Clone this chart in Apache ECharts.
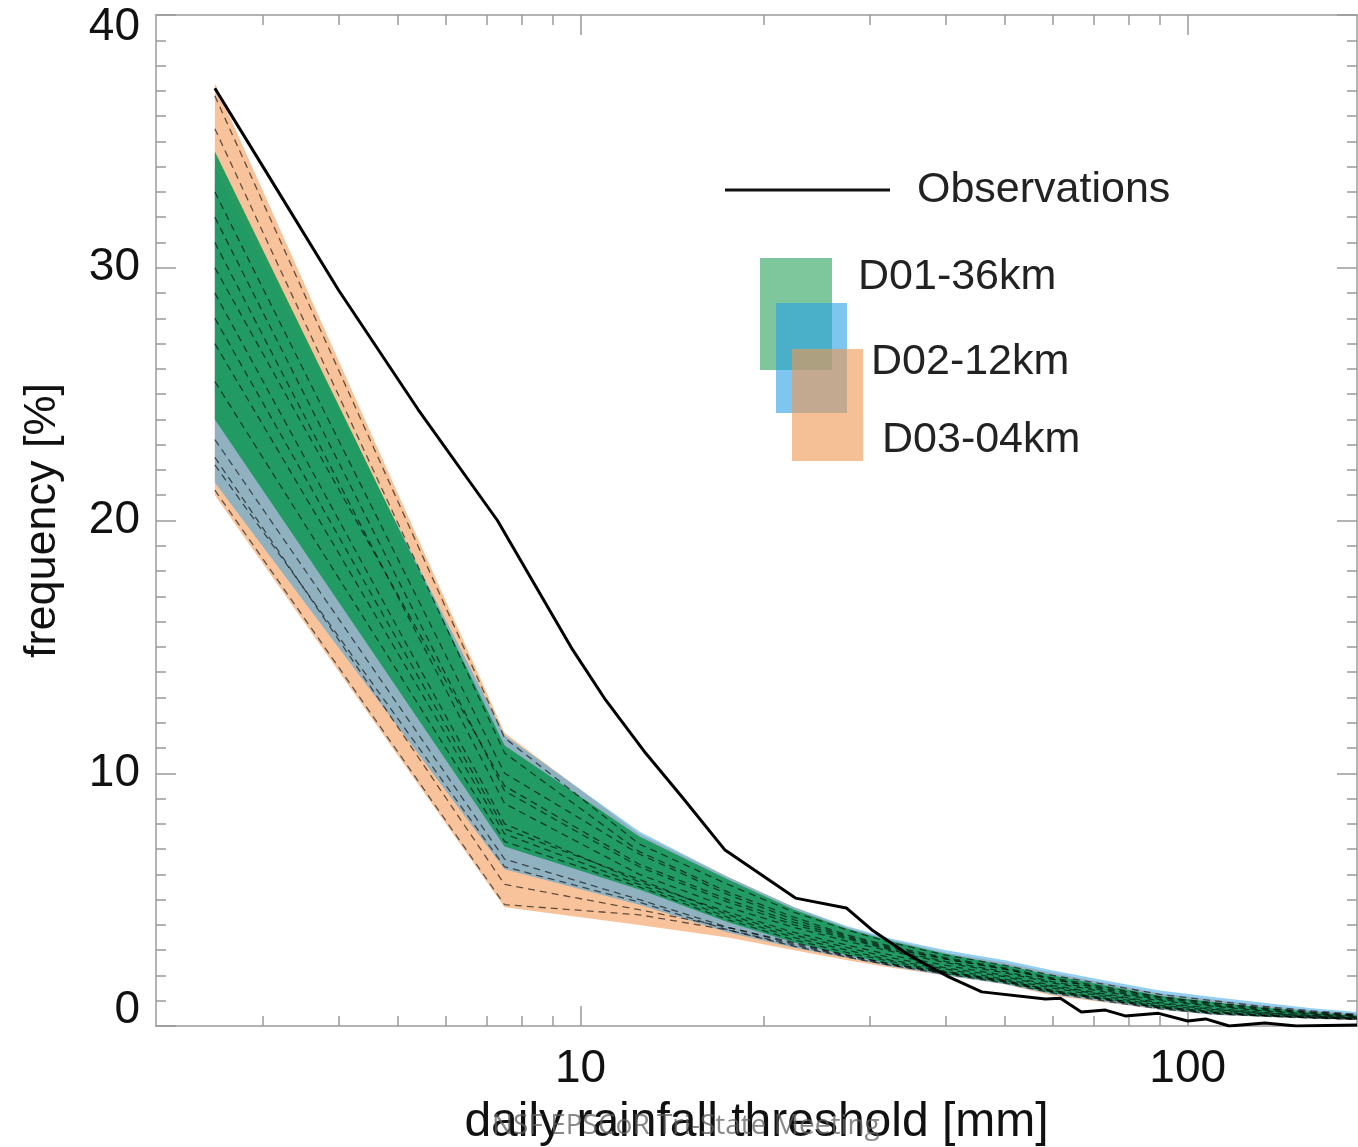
<!DOCTYPE html>
<html>
<head>
<meta charset="utf-8">
<script src="https://cdn.jsdelivr.net/npm/echarts@6/dist/echarts.min.js"></script>
<style>
  html, body { margin: 0; padding: 0; background: #fff; }
  #chart { width: 1358px; height: 1147px; }
</style>
</head>
<body>
<div id="chart"></div>
<script>
// thresholds (mm) where the model ensembles are sampled
var thresholds = [2.5, 7.5, 12.5, 17.5, 22.5, 27.5, 32.5, 40, 50, 60, 75, 90, 110, 130, 160, 190];

// ensemble envelopes (frequency %)
var d01Hi = [34.6, 11.1, 7.5, 5.8, 4.6, 3.85, 3.35, 2.85, 2.4, 2.0, 1.55, 1.2, 0.95, 0.75, 0.55, 0.42];
var d01Lo = [24.0, 7.1, 5.4, 4.1, 3.3, 2.8, 2.45, 2.05, 1.7, 1.3, 1.0, 0.7, 0.5, 0.4, 0.32, 0.27];
var d02Hi = [34.0, 11.5, 7.7, 5.9, 4.7, 3.95, 3.45, 3.0, 2.6, 2.2, 1.75, 1.4, 1.15, 0.95, 0.7, 0.55];
var d02Lo = [21.5, 6.2, 4.8, 3.7, 3.1, 2.7, 2.35, 2.0, 1.65, 1.25, 0.92, 0.65, 0.45, 0.38, 0.3, 0.25];
var d03Hi = [37.3, 11.6, 7.6, 5.9, 4.7, 3.9, 3.4, 2.9, 2.5, 2.1, 1.65, 1.3, 1.05, 0.85, 0.62, 0.48];
var d03Lo = [21.0, 4.7, 4.0, 3.5, 3.0, 2.6, 2.3, 2.0, 1.65, 1.2, 0.9, 0.65, 0.45, 0.38, 0.3, 0.25];

// a few ensemble members (dashed)
var d01Members = [
  [33.0, 10.0, 6.8, 5.2, 4.2, 3.55, 3.1, 2.65, 2.25, 1.85, 1.4, 1.1, 0.85, 0.68, 0.5, 0.4],
  [32.0, 9.3, 6.3, 4.9, 4.0, 3.45, 3.0, 2.55, 2.15, 1.75, 1.35, 1.05, 0.8, 0.65, 0.48, 0.38],
  [31.0, 8.8, 6.0, 4.7, 3.9, 3.35, 2.95, 2.5, 2.1, 1.7, 1.3, 1.0, 0.78, 0.62, 0.46, 0.37],
  [29.0, 8.0, 5.7, 4.5, 3.7, 3.2, 2.8, 2.4, 2.0, 1.6, 1.22, 0.92, 0.7, 0.56, 0.42, 0.34],
  [28.0, 7.8, 5.8, 4.4, 3.6, 3.1, 2.7, 2.3, 1.95, 1.55, 1.18, 0.88, 0.66, 0.53, 0.4, 0.32],
  [27.0, 7.6, 5.6, 4.3, 3.5, 3.0, 2.6, 2.25, 1.85, 1.5, 1.12, 0.82, 0.62, 0.5, 0.38, 0.31],
  [25.5, 7.3, 5.5, 4.2, 3.4, 2.9, 2.55, 2.15, 1.8, 1.4, 1.05, 0.76, 0.56, 0.45, 0.35, 0.29]
];
var d02Members = [
  [30.0, 9.5, 6.4, 5.0, 4.1, 3.5, 3.05, 2.65, 2.25, 1.85, 1.45, 1.15, 0.92, 0.75, 0.55, 0.44],
  [23.2, 6.6, 5.0, 3.9, 3.25, 2.8, 2.45, 2.1, 1.75, 1.35, 1.0, 0.72, 0.52, 0.42, 0.33, 0.27],
  [22.2, 6.3, 4.9, 3.8, 3.15, 2.72, 2.4, 2.05, 1.7, 1.3, 0.95, 0.68, 0.48, 0.4, 0.31, 0.26]
];
var d03Members = [
  [36.8, 11.4, 7.2, 5.6, 4.5, 3.8, 3.3, 2.8, 2.4, 2.0, 1.6, 1.25, 1.0, 0.8, 0.6, 0.46],
  [35.5, 10.8, 6.9, 5.3, 4.3, 3.6, 3.15, 2.7, 2.3, 1.9, 1.5, 1.15, 0.9, 0.72, 0.55, 0.42],
  [22.5, 5.6, 4.6, 3.9, 3.3, 2.8, 2.45, 2.15, 1.8, 1.4, 1.05, 0.78, 0.55, 0.45, 0.35, 0.28],
  [21.2, 4.8, 4.4, 3.8, 3.2, 2.75, 2.4, 2.1, 1.75, 1.35, 1.0, 0.72, 0.5, 0.42, 0.33, 0.27]
];

// observed curve
var obsX = [2.5, 3.0, 4.0, 5.4, 7.3, 9.7, 11.0, 12.8, 14.7, 17.3, 22.6, 27.4, 30.2, 34.8, 40.4, 45.8, 58.3, 61.7, 66.8, 73.2, 78.9, 89.5, 100, 107, 117, 134, 151, 190];
var obsY = [37.1, 34.0, 29.1, 24.4, 20.0, 14.9, 12.9, 10.8, 9.06, 6.96, 5.06, 4.67, 3.8, 2.8, 1.94, 1.35, 1.07, 1.1, 0.55, 0.63, 0.4, 0.5, 0.2, 0.28, 0.0, 0.12, 0.0, 0.04];

var xMajorTicks = [10, 100];
var xMinorTicks = [3, 4, 5, 6, 7, 8, 9, 20, 30, 40, 50, 60, 70, 80, 90];

var FONT = "Liberation Sans, Arial, sans-serif";
var gray = "#9a9a9a";

function pairs(xs, ys) {
  return xs.map(function (x, i) { return [x, ys[i]]; });
}

// filled envelope between lo and hi, as one polygon placed by the axes
function band(lo, hi, color) {
  return {
    type: "custom", silent: true, z: 2, clip: true,
    data: pairs(thresholds, hi),
    encode: { x: 0, y: 1 },
    renderItem: function (params, api) {
      if (params.dataIndex !== 0) return null;
      var pts = [];
      thresholds.forEach(function (t, i) { pts.push(api.coord([t, hi[i]])); });
      for (var i = thresholds.length - 1; i >= 0; i--) pts.push(api.coord([thresholds[i], lo[i]]));
      return { type: "polygon", shape: { points: pts }, style: { fill: color } };
    }
  };
}

function members(list) {
  return list.map(function (m) {
    return {
      type: "line", data: pairs(thresholds, m), symbol: "none", silent: true, z: 4,
      lineStyle: { color: "rgba(0,0,0,0.6)", width: 1.3, type: [7, 5] }
    };
  });
}

function xAxisOf(pos, ticks, len, showLine, showLabel) {
  return {
    type: "log", logBase: 10, min: 2, max: 190, position: pos, gridIndex: 0,
    axisLine: { show: showLine, lineStyle: { color: gray, width: 1.5 } },
    axisTick: { show: true, inside: true, length: len, customValues: ticks, lineStyle: { color: gray, width: 1.5 } },
    axisLabel: {
      show: showLabel, customValues: ticks, margin: 20,
      fontSize: 46, color: "#111", fontFamily: FONT
    },
    splitLine: { show: false },
    minorTick: { show: false },
    name: showLabel ? "daily rainfall threshold [mm]" : "",
    nameLocation: "middle", nameGap: 73,
    nameTextStyle: { fontSize: 48, color: "#111", fontFamily: FONT }
  };
}

function yAxisOf(pos, showLabel) {
  return {
    type: "value", min: 0, max: 40, interval: 10, position: pos,
    axisLine: { show: true, lineStyle: { color: gray, width: 1.5 } },
    axisTick: { show: true, inside: true, length: 20, lineStyle: { color: gray, width: 1.5 } },
    minorTick: { show: true, splitNumber: 10, length: 10, lineStyle: { color: gray, width: 1.5 } },
    splitLine: { show: false },
    axisLabel: {
      show: showLabel, margin: 16, fontSize: 46, color: "#111", fontFamily: FONT,
      formatter: function (v) {
        if (v === 40) return "{t|40}";
        if (v === 0) return "{b|0}";
        return String(v);
      },
      rich: {
        t: { fontSize: 46, color: "#111", fontFamily: FONT, padding: [24, 0, 0, 0] },
        b: { fontSize: 46, color: "#111", fontFamily: FONT, padding: [0, 0, 32, 0] }
      }
    },
    name: showLabel ? "frequency [%]" : "",
    nameLocation: "middle", nameGap: 91, nameRotate: 90,
    nameTextStyle: { fontSize: 45, color: "#111", fontFamily: FONT }
  };
}

var series = [
  band(d03Lo, d03Hi, "rgba(245,175,120,0.75)"),
  band(d02Lo, d02Hi, "rgba(40,160,230,0.5)"),
  band(d01Lo, d01Hi, "rgba(25,152,92,0.93)")
]
  .concat(members(d03Members))
  .concat(members(d02Members))
  .concat(members(d01Members));

series.push({
  type: "line", name: "Observations", data: pairs(obsX, obsY),
  symbol: "none", z: 6, lineStyle: { color: "#000", width: 3 }
});

// legend, drawn by hand to get the overlapping squares
var legendFont = { fontSize: 43, fontFamily: FONT, fill: "#222", verticalAlign: "middle" };
function legendText(x, y, text) {
  return { type: "text", x: x, y: y, style: Object.assign({ text: text }, legendFont) };
}
var legend = [
  { type: "line", shape: { x1: 725, y1: 190, x2: 890, y2: 190 }, style: { stroke: "#111", lineWidth: 3 } },
  legendText(917, 190, "Observations"),
  { type: "rect", shape: { x: 760, y: 258, width: 72, height: 112 }, style: { fill: "rgba(40,160,90,0.6)" } },
  { type: "rect", shape: { x: 776, y: 303, width: 71, height: 110 }, style: { fill: "rgba(40,160,230,0.6)" } },
  { type: "rect", shape: { x: 792, y: 349, width: 71, height: 112 }, style: { fill: "rgba(240,150,80,0.6)" } },
  legendText(858, 277, "D01-36km"),
  legendText(871, 362, "D02-12km"),
  legendText(882, 440, "D03-04km"),
  { type: "text", x: 492, y: 1126, z: 100, style: { text: "NSF EPSCoR Tri-State Meeting", fontSize: 28, fontFamily: "Open Sans, sans-serif", fill: "rgba(95,95,95,0.75)", verticalAlign: "middle" } }
];

var chart = echarts.init(document.getElementById("chart"), null, { renderer: "canvas" });
chart.setOption({
  animation: false,
  backgroundColor: "#fff",
  grid: { left: 156, right: 1, top: 15, bottom: 121, containLabel: false, outerBoundsMode: "none" },
  xAxis: [
    xAxisOf("bottom", xMajorTicks, 20, true, true),
    xAxisOf("bottom", xMinorTicks, 10, false, false),
    xAxisOf("top", xMajorTicks, 20, true, false),
    xAxisOf("top", xMinorTicks, 10, false, false)
  ],
  yAxis: [yAxisOf("left", true), yAxisOf("right", false)],
  series: series,
  graphic: legend
});
</script>
</body>
</html>
